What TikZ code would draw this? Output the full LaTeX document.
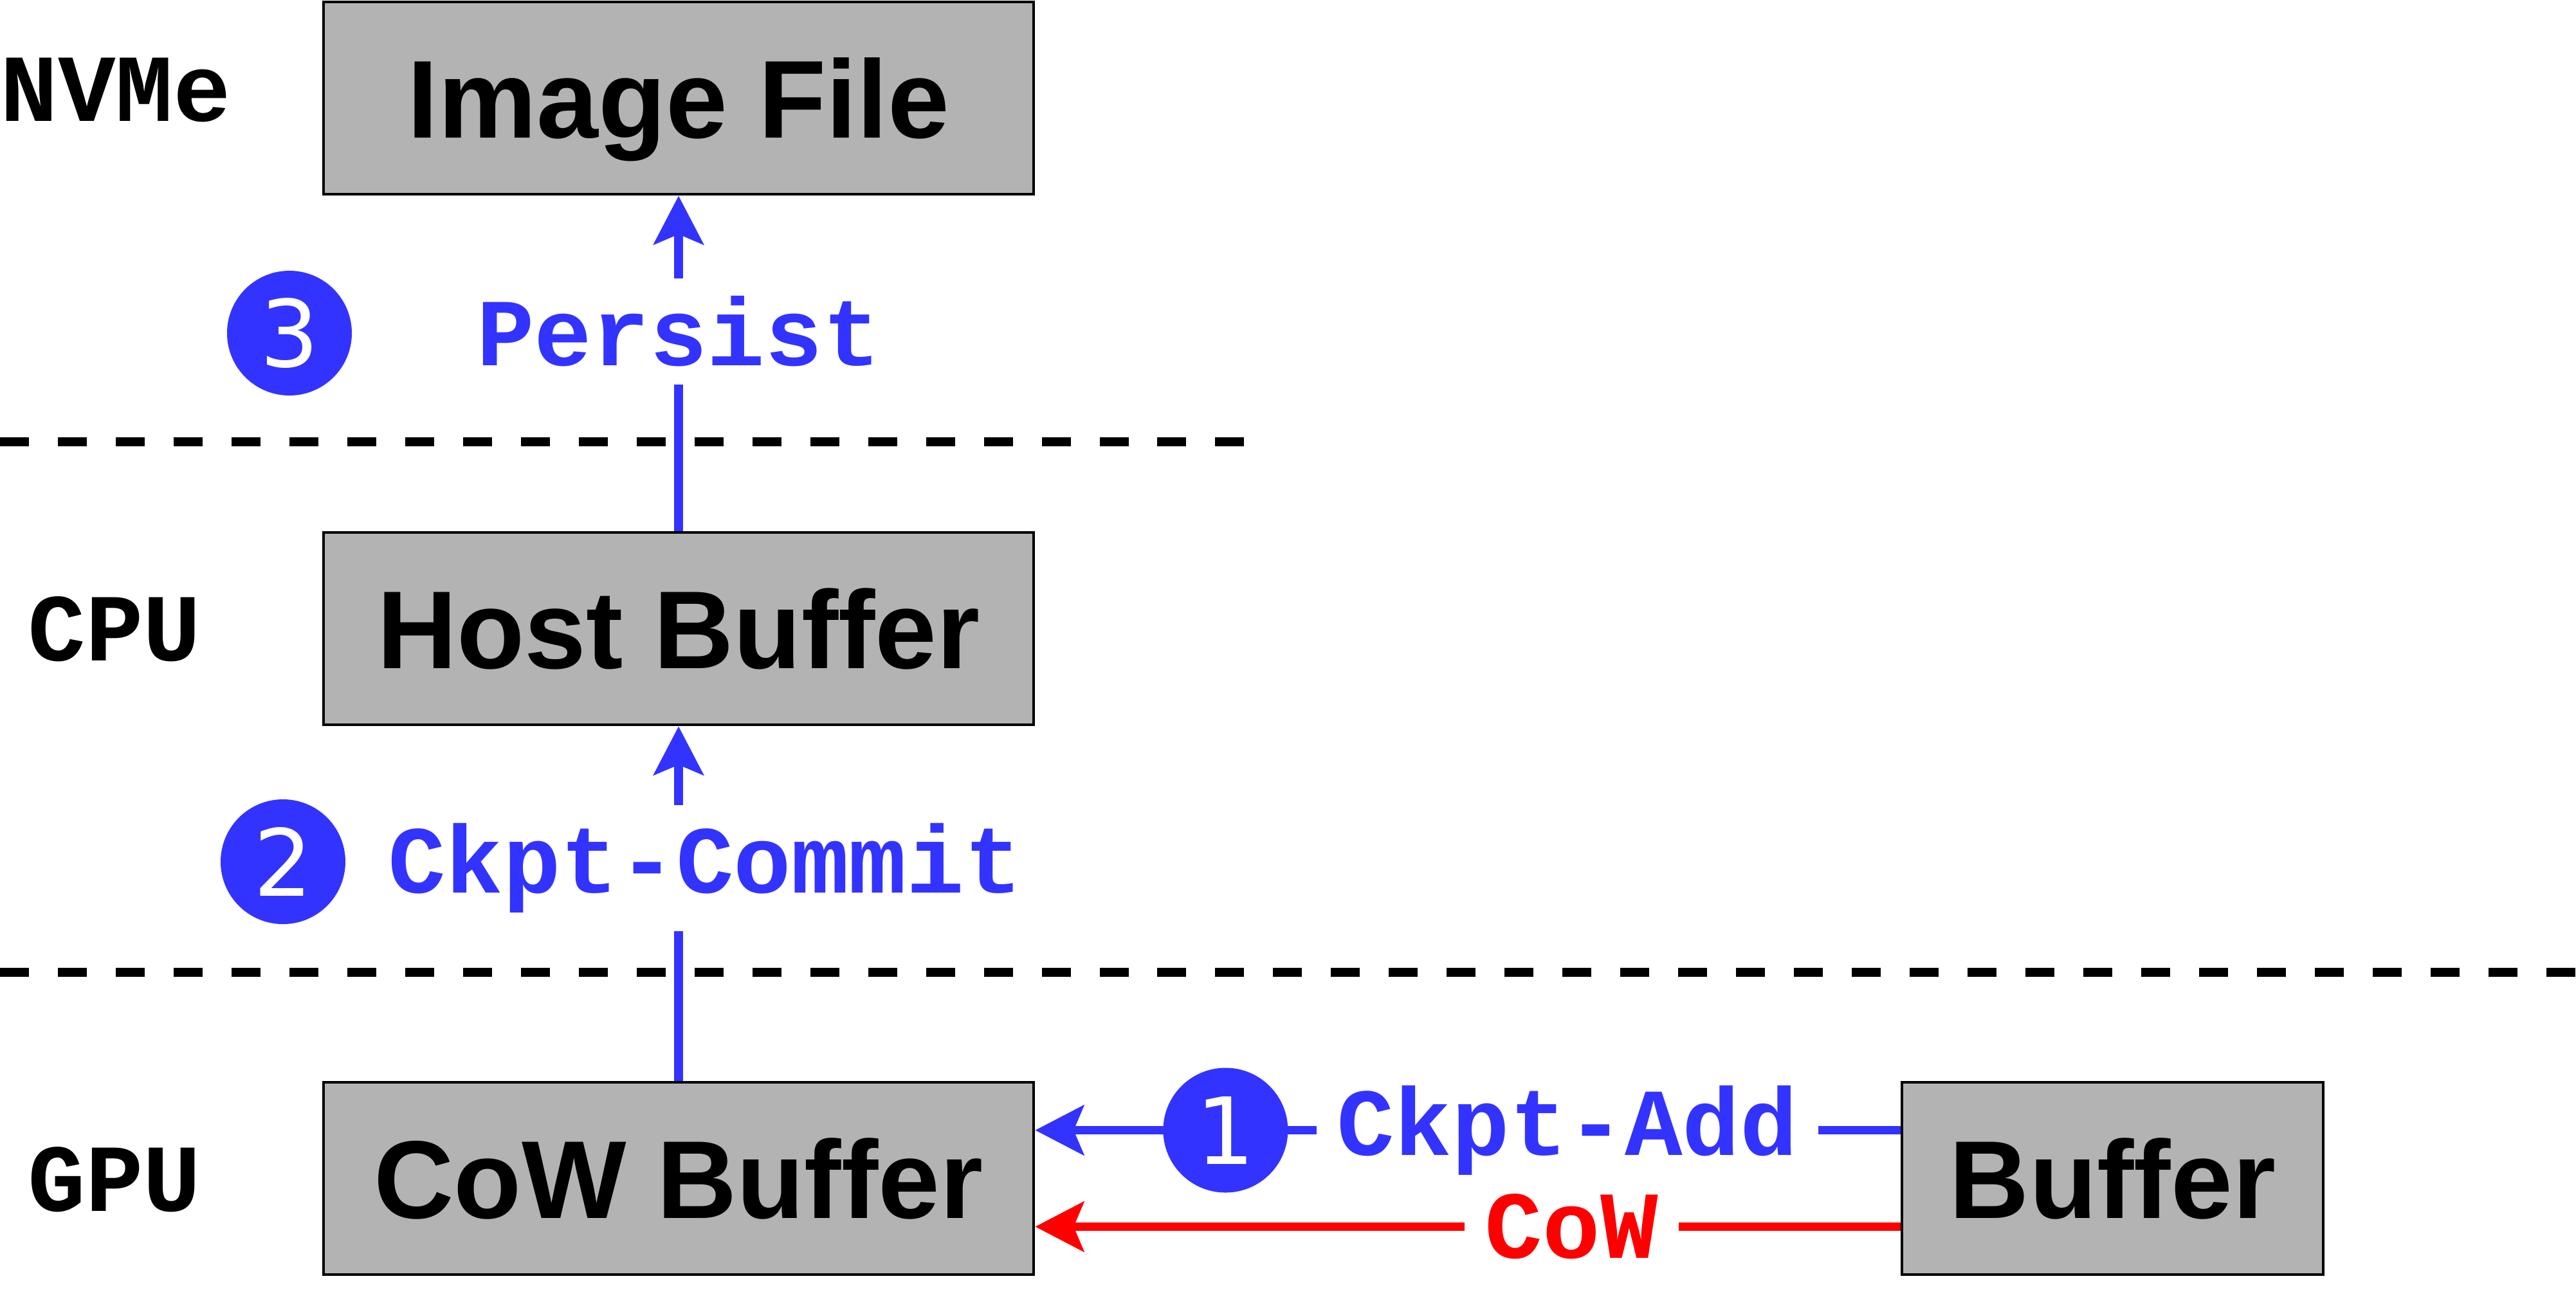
\documentclass[tikz,border=0pt]{standalone}
\usepackage{fontspec}
\setmainfont{Liberation Sans}
\newfontfamily\monofont{Liberation Mono}
\newfontfamily\digitfont{DejaVu Sans}
\usepackage{tikz}
\usetikzlibrary{positioning,arrows.meta}
\usepackage{xcolor}
\definecolor{flowblue}{RGB}{51,51,255}
\definecolor{boxgray}{RGB}{179,179,179}
\tikzstyle{memory}=[rectangle, draw=black, line width=1.4pt, fill=boxgray, minimum height=2.99cm,
text height=35pt, text depth=0pt, font=\fontsize{49}{58}\selectfont\bfseries]
\tikzstyle{layer}=[font=\fontsize{42.5}{50}\selectfont\monofont\bfseries]
\tikzstyle{action}=[fill=white, inner xsep=9pt, inner ysep=8pt, font=\fontsize{42.5}{50}\selectfont\monofont\bfseries]
\tikzstyle{stepnum}=[circle, fill=flowblue, text=white, minimum size=1.94cm, inner sep=0pt,
font=\fontsize{41}{48}\selectfont\digitfont]
\tikzstyle{flow}=[line width=3.8pt, -{Stealth[length=21.5pt, width=22pt, inset=4.5pt]}]
\tikzstyle{tier}=[line width=4pt, dash pattern=on 12.8pt off 12.8pt]

\begin{document}
\begin{tikzpicture}
        \useasboundingbox (0,0) rectangle (40.05,-20.05);

        % tiers
        \draw [tier] (0,-6.87) -- (19.54,-6.87);
        \draw [tier] (0,-15.12) -- (40.05,-15.12);
        \node (nvme)[layer] at (1.80,-1.40) {NVMe};
        \node (cpu)[layer] at (1.78,-9.78) {CPU};
        \node (gpu)[layer] at (1.78,-18.34) {GPU};

        % buffers
        \node (image)[memory, minimum width=11.04cm] at (10.55,-1.525) {Image File};
        \node (host)[memory, minimum width=11.04cm] at (10.55,-9.775) {Host Buffer};
        \node (cow)[memory, minimum width=11.04cm] at (10.55,-18.325) {CoW Buffer};
        \node (buffer)[memory, minimum width=6.55cm] at (32.845,-18.325) {Buffer};

        \draw [flow, flowblue] (host) -- node [action, pos=0.595] {Persist} (image);
        \draw [flow, flowblue] (cow) -- node [action, pos=0.60, xshift=0.41cm] {Ckpt-Commit} (host);
        \draw [flow, flowblue] ([yshift=0.75cm]buffer.west) -- node [action, pos=0.385] {Ckpt-Add}
                node [stepnum, pos=0.78] {1} ([yshift=0.75cm]cow.east);
        \draw [flow, red] ([yshift=-0.75cm]buffer.west) -- node [action, pos=0.38] {CoW} ([yshift=-0.75cm]cow.east);

        \node (two)[stepnum] at (4.40,-13.40) {2};
        \node (three)[stepnum] at (4.50,-5.18) {3};
\end{tikzpicture}
\end{document}
